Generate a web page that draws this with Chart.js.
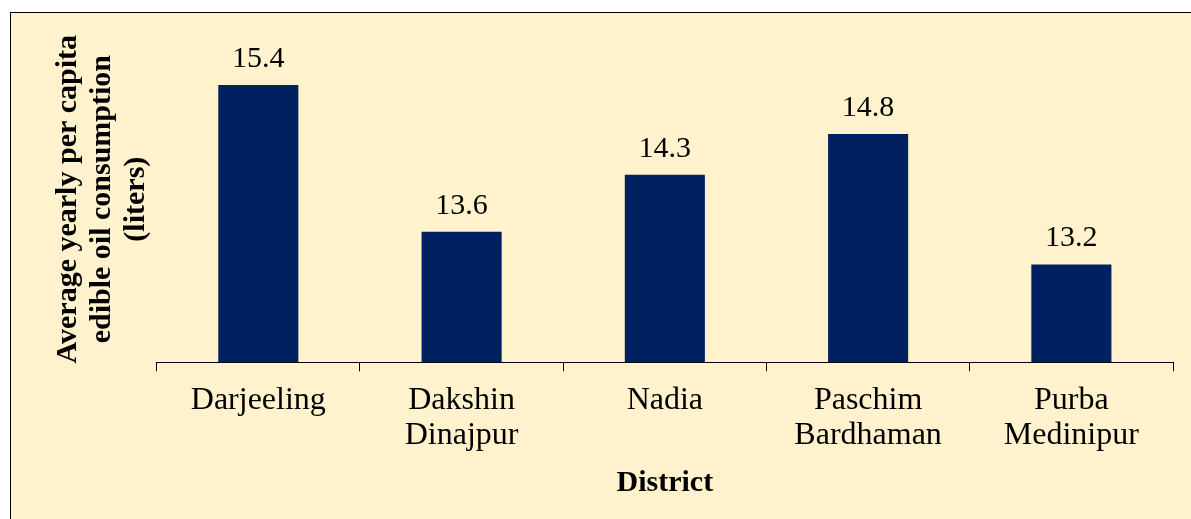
<!DOCTYPE html>
<html>
<head>
<meta charset="utf-8">
<script src="https://cdn.jsdelivr.net/npm/chart.js@4.4.1/dist/chart.umd.min.js"></script>
<style>
    body { margin: 0; background: #ffffff; }
    #frame {
        position: absolute;
        left: 10px;
        top: 12px;
        width: 1190px;
        height: 515px;
        border: 1px solid #000000;
        background: #fff2cc;
    }
    #chart { display: block; }
</style>
</head>
<body>
<div id="frame"><canvas id="chart" width="1190" height="515"></canvas></div>
<script>
"use strict";

// Districts and their average yearly per capita consumption (liters)
const districts = [
    "Darjeeling",
    ["Dakshin", "Dinajpur"],
    "Nadia",
    ["Paschim", "Bardhaman"],
    ["Purba", "Medinipur"],
];
const consumption = [15.4, 13.6, 14.3, 14.8, 13.2];

const yMin = 12;
const yMax = 16;

/**
 * Draw the value above each bar
 */
const valueLabels = {
    id: "valueLabels",
    afterDatasetsDraw(chart) {
        const ctx = chart.ctx;
        const meta = chart.getDatasetMeta(0);
        ctx.save();
        ctx.font = "30px 'Liberation Serif'";
        ctx.fillStyle = "#000000";
        ctx.textAlign = "center";
        ctx.textBaseline = "alphabetic";
        meta.data.forEach((bar, i) => {
            ctx.fillText(consumption[i].toFixed(1), bar.x, bar.y - 18);
        });
        ctx.restore();
    },
};

new Chart(document.getElementById("chart"), {
    type: "bar",
    data: {
        labels: districts,
        datasets: [
            {
                data: consumption,
                backgroundColor: "#00205f",
                borderWidth: 0,
                barPercentage: 0.394,
                categoryPercentage: 1,
            },
        ],
    },
    plugins: [valueLabels],
    options: {
        responsive: false,
        animation: false,
        layout: {
            padding: { left: 40, right: 28, top: 23, bottom: 27 },
        },
        plugins: {
            legend: { display: false },
            tooltip: { enabled: false },
        },
        scales: {
            x: {
                grid: {
                    offset: true,
                    drawOnChartArea: false,
                    drawTicks: true,
                    tickLength: 9,
                    color: "#000000",
                },
                border: { color: "#000000", width: 1 },
                ticks: {
                    color: "#000000",
                    padding: 11,
                    maxRotation: 0,
                    font: { family: "'Liberation Serif'", size: 32, lineHeight: 1.12 },
                },
                title: {
                    display: true,
                    text: "District",
                    color: "#000000",
                    padding: { top: 0, bottom: 0 },
                    font: { family: "'Liberation Serif'", size: 30, weight: "bold", lineHeight: 1.2 },
                },
            },
            y: {
                min: yMin,
                max: yMax,
                grid: { display: false, drawTicks: false },
                border: { display: false },
                ticks: { display: false },
                title: {
                    display: true,
                    text: ["Average yearly per capita", "edible oil consumption", "(liters)"],
                    color: "#000000",
                    padding: { top: 0, bottom: 4 },
                    font: { family: "'Liberation Serif'", size: 30, weight: "bold", lineHeight: 1.13 },
                },
            },
        },
    },
});
</script>
</body>
</html>
